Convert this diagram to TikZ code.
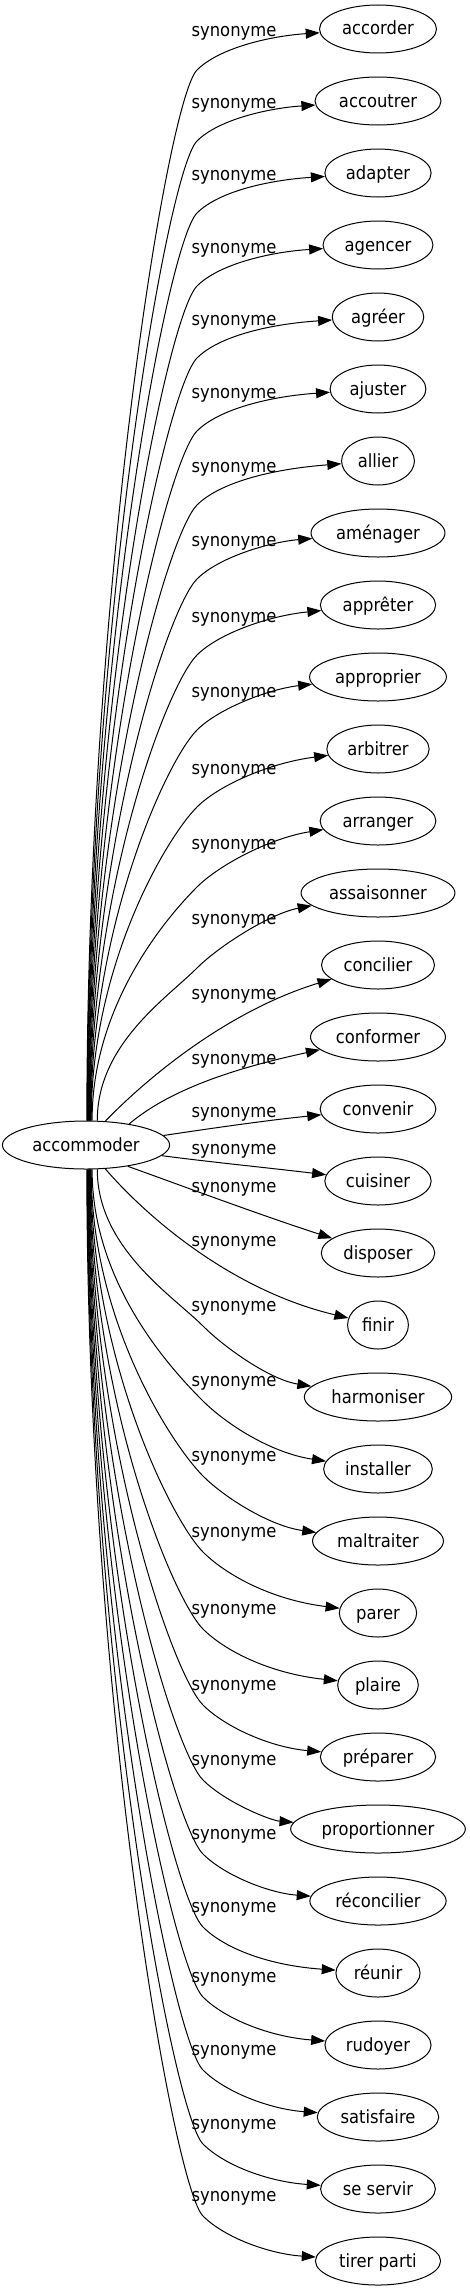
\documentclass[tikz,border=0pt]{standalone}
\usepackage{fontspec}
\setmainfont[FakeStretch=0.9]{DejaVu Sans}
\usetikzlibrary{arrows.meta,shapes.geometric}
\tikzset{
  word/.style={ellipse, draw, line width=1pt, minimum height=48pt, inner xsep=5.5pt, inner ysep=0pt,
    text height=12pt, text depth=0pt, font=\fontsize{18.2}{20}\selectfont},
  lab/.style={inner sep=0pt, anchor=base, font=\fontsize{18.2}{20}\selectfont},
  syn/.style={draw, line width=1pt, -{Triangle[length=14pt,width=10pt]}},
}
\newcommand\edgetop[5]{%
  \pgfmathsetmacro\pa{(1121+#5)/2}%
  \pgfmathsetmacro\pb{#5+30}%
  \pgfmathsetmacro\qa{#5-22}%
  \pgfmathsetmacro\qb{#4+7+0.4*max(0,#5-#4-41)}%
  \draw[syn] (A.#2) .. controls (#3,\pa) and (167,\pb) .. (197,#5) .. controls (219,\qa) and (270,\qb) .. (#1);
}
\newcommand\edgebot[5]{%
  \pgfmathsetmacro\pa{(1169+#5)/2}%
  \pgfmathsetmacro\pb{#5-30}%
  \pgfmathsetmacro\qa{#5+22}%
  \pgfmathsetmacro\qb{#4-7-0.4*max(0,#4-#5-45)}%
  \draw[syn] (A.#2) .. controls (#3,\pa) and (173,\pb) .. (203,#5) .. controls (225,\qa) and (270,\qb) .. (#1);
}
\begin{document}
\begin{tikzpicture}[x=1pt,y=-1pt]
\useasboundingbox (0,0) rectangle (469,2291);
\node[word] (A) at (86,1145) {accommoder};
\foreach \i/\t in {0/accorder,1/accoutrer,2/adapter,3/agencer,4/agréer,5/ajuster,6/allier,7/aménager,
  8/apprêter,9/approprier,10/arbitrer,11/arranger,12/assaisonner,13/concilier,14/conformer,15/convenir,
  16/cuisiner,17/disposer,18/finir,19/harmoniser,20/installer,21/maltraiter,22/parer,23/plaire,
  24/préparer,25/proportionner,26/réconcilier,27/réunir,28/rudoyer,29/satisfaire,30/se servir,31/tirer parti}
  \node[word] (t\i) at (378,{29+72*\i}) {\t};
\foreach \i/\ly in {0/32,1/103,2/175,3/248,4/320,5/393,6/467,7/541,8/617,9/692,10/769,11/844,12/919,
  13/994,14/1059,15/1112,16/1149,17/1187,18/1241,19/1306,20/1381,21/1456,22/1532,23/1609,24/1685,
  25/1760,26/1834,27/1907,28/1977,29/2050,30/2124,31/2196}
  \node[lab] (l\i) at (234,{\ly+5}) {synonyme};
\edgetop{t0}{88}{87}{29}{70}
\edgetop{t1}{87}{87.4}{101}{141}
\edgetop{t2}{86}{87.8}{173}{213}
\edgetop{t3}{85}{88.2}{245}{286}
\edgetop{t4}{84}{88.6}{317}{358}
\edgetop{t5}{83}{89}{389}{431}
\edgetop{t6}{82}{89.4}{461}{505}
\edgetop{t7}{81}{89.8}{533}{579}
\edgetop{t8}{80}{90.2}{605}{655}
\edgetop{t9}{79}{90.6}{677}{730}
\edgetop{t10}{78}{91}{749}{807}
\edgetop{t11}{76}{92}{821}{887}
\edgetop{t12}{65}{97}{893}{968}
\draw[syn] (A.51) .. controls (150,1075) and (230,1010) .. (t13);
\draw[syn] (A.26) .. controls (175,1085) and (250,1065) .. (t14);
\draw[syn] (A.7) .. controls (220,1127) and (270,1120) .. (t15);
\draw[syn] (A.352) .. controls (210,1162) and (270,1168) .. (t16);
\draw[syn] (A.333) .. controls (180,1185) and (260,1215) .. (t17);
\draw[syn] (A.309) .. controls (145,1215) and (230,1290) .. (t18);
\edgebot{t19}{295}{97}{1397}{1326}
\edgebot{t20}{284}{92}{1469}{1401}
\edgebot{t21}{282}{91}{1541}{1476}
\edgebot{t22}{281}{90.6}{1613}{1552}
\edgebot{t23}{280}{90.2}{1685}{1629}
\edgebot{t24}{279}{89.8}{1757}{1705}
\edgebot{t25}{278}{89.4}{1829}{1780}
\edgebot{t26}{277}{89}{1901}{1854}
\edgebot{t27}{276}{88.6}{1973}{1927}
\edgebot{t28}{275}{88.2}{2045}{1997}
\edgebot{t29}{274}{87.8}{2117}{2070}
\edgebot{t30}{273}{87.4}{2189}{2144}
\edgebot{t31}{272}{87}{2261}{2216}
\end{tikzpicture}
\end{document}
